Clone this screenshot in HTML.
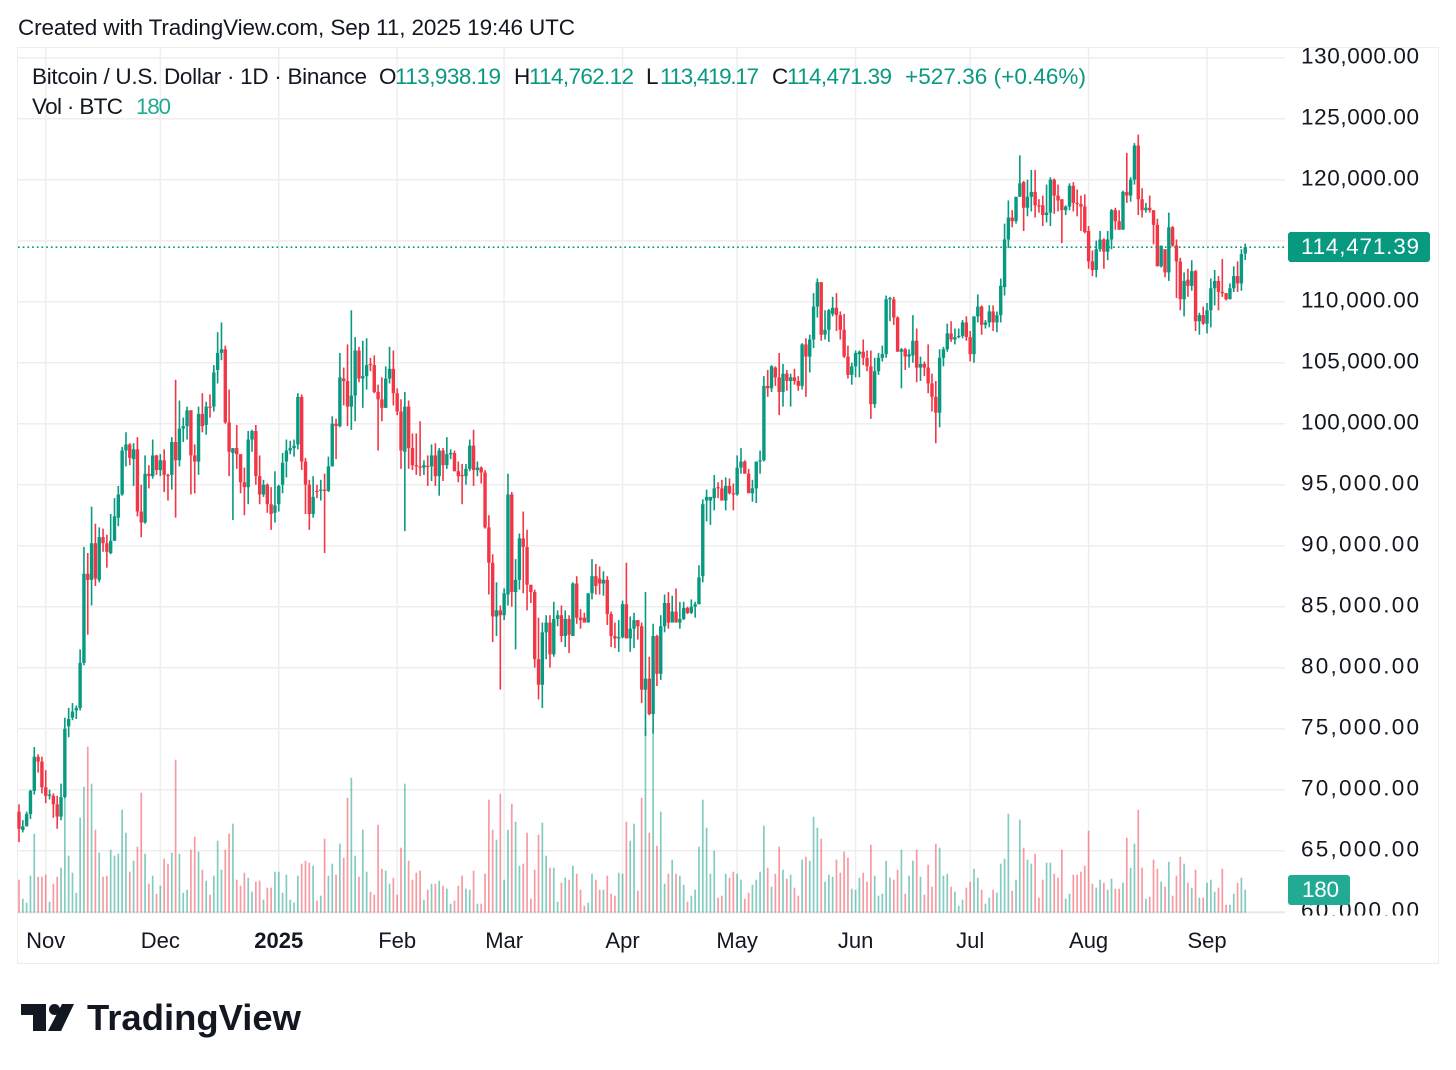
<!DOCTYPE html>
<html lang="en">
<head>
<meta charset="utf-8">
<title>BTC/USD chart</title>
<style>
html,body{margin:0;padding:0;background:#fff;width:1456px;height:1070px;overflow:hidden}
svg{display:block;position:absolute;left:0;top:0}
text{font-family:"Liberation Sans",sans-serif;fill:#131722}
.t21{font-size:22.5px}
.up{fill:#089981}
</style>
</head>
<body>
<svg id="chart" width="1456" height="1070" viewBox="0 0 1456 1070" xmlns="http://www.w3.org/2000/svg">
  <defs>
    <clipPath id="axis-clip"><rect x="1288" y="40" width="150" height="875.5"></rect></clipPath>
  </defs>
  <text class="t21" x="18" y="35" textLength="557" lengthAdjust="spacing">Created with TradingView.com, Sep 11, 2025 19:46 UTC</text>
  <rect x="17.5" y="47.5" width="1421" height="916" fill="#fff" stroke="#ececec" stroke-width="1"></rect>
  <g id="grid"></g>
  <g id="volumes"></g>
  <g id="candles"></g>
  <line id="last-line" x1="18" x2="1285" stroke="#089981" stroke-width="1.6" stroke-dasharray="1.7 3"></line>
  <g id="price-axis" clip-path="url(#axis-clip)"></g>
  <g id="time-axis"></g>

  <g>
    <text class="t21" x="32" y="84" textLength="335" lengthAdjust="spacing">Bitcoin / U.S. Dollar · 1D · Binance</text>
    <text class="t21" x="379" y="84">O</text>
    <text class="t21 up" x="395" y="84" textLength="106" lengthAdjust="spacing">113,938.19</text>
    <text class="t21" x="514" y="84">H</text>
    <text class="t21 up" x="529" y="84" textLength="105" lengthAdjust="spacing">114,762.12</text>
    <text class="t21" x="646" y="84">L</text>
    <text class="t21 up" x="660" y="84" textLength="99" lengthAdjust="spacing">113,419.17</text>
    <text class="t21" x="772" y="84">C</text>
    <text class="t21 up" x="787" y="84" textLength="105" lengthAdjust="spacing">114,471.39</text>
    <text class="t21 up" x="905" y="84" textLength="181" lengthAdjust="spacing">+527.36 (+0.46%)</text>
    <text class="t21" x="32" y="114" textLength="91" lengthAdjust="spacing">Vol · BTC</text>
    <text class="t21" x="136" y="114" textLength="35" lengthAdjust="spacing" style="fill:#22ab94">180</text>
  </g>

  <g>
    <rect x="1288" y="232" width="142" height="30" rx="3" fill="#089981"></rect>
    <text class="t21" x="1301" y="254" textLength="118" lengthAdjust="spacing" style="fill:#fff">114,471.39</text>
  </g>
  <g>
    <rect x="1288" y="875" width="62" height="30" rx="3" fill="#22ab94"></rect>
    <text class="t21" x="1302" y="897" textLength="37" lengthAdjust="spacing" style="fill:#fff">180</text>
  </g>

  <g>
    <path d="M21 1004H46V1031H33V1015H21Z" fill="#131722"></path>
    <circle cx="54.5" cy="1009.5" r="5.5" fill="#131722"></circle>
    <path d="M62 1004H74L61 1031H48Z" fill="#131722"></path>
    <text x="87" y="1030" font-size="36" font-weight="700" textLength="214" lengthAdjust="spacingAndGlyphs">TradingView</text>
  </g>
</svg>

<script>
// Daily BTC/USD candles in thousands of USD, Oct 25 2024 to Sep 11 2025
const opens = [
68.2,66.7,67.0,68.0,69.9,72.7,72.3,70.2,69.5,69.5,
68.8,67.8,69.4,75.2,75.9,76.5,76.7,80.4,87.7,87.2,
90.2,87.2,90.7,90.2,89.4,90.4,92.3,94.2,97.8,98.3,
97.1,97.9,92.8,91.9,95.9,95.7,97.4,96.2,97.0,95.8,
95.8,98.5,97.0,99.6,99.8,101.1,97.4,96.9,100.8,99.9,
101.4,101.4,104.4,105.8,106.1,100.1,97.6,98.0,97.5,95.2,
94.8,98.7,99.4,95.7,94.2,95.0,93.4,92.7,93.4,95.0,
96.9,97.8,98.0,98.3,102.2,96.9,95.0,92.6,94.5,94.5,
94.6,94.5,96.5,100.0,99.8,103.7,103.5,101.4,102.3,106.0,
103.7,103.9,104.9,104.8,102.6,102.0,101.3,103.7,104.5,102.5,
101.0,97.7,101.4,98.0,96.6,96.5,96.4,96.55,96.5,97.4,
95.7,97.8,96.6,97.5,97.6,96.1,95.8,95.7,96.3,98.2,
96.2,96.4,96.0,91.5,88.6,84.2,84.7,84.3,86.0,94.2,
86.2,87.2,90.6,89.9,86.8,86.2,80.7,78.6,82.9,83.7,
81.1,84.0,84.3,82.6,84.0,82.6,86.9,84.1,84.1,83.7,
86.1,87.5,87.3,86.9,87.2,84.4,82.6,82.4,82.5,85.2,
82.4,83.2,83.9,83.4,78.2,79.1,76.2,82.6,79.5,83.4,
85.3,83.7,84.6,83.7,84.0,84.9,84.5,85.0,85.2,87.5,
93.7,93.7,93.9,94.8,94.7,93.7,94.9,94.3,94.2,96.4,
96.9,95.9,94.3,94.7,96.9,97.0,103.1,102.9,104.6,103.8,
102.6,104.1,103.5,103.8,103.5,103.1,106.5,105.5,106.9,109.6,
111.6,107.3,107.7,109.0,109.5,108.9,107.7,105.5,104.0,104.7,
105.7,105.9,105.4,104.7,101.6,104.3,105.4,105.7,110.2,110.2,
108.7,105.9,106.1,105.5,105.6,106.8,104.6,104.9,104.6,103.3,
102.2,100.9,105.4,106.1,107.4,106.9,107.1,107.2,108.3,107.1,
105.7,108.8,109.6,108.1,108.3,109.2,108.3,108.9,111.2,115.1,
116.9,116.6,118.6,119.8,117.7,118.6,119.0,117.9,117.9,117.1,
117.3,120.0,118.7,118.4,117.5,117.8,119.5,118.1,118.0,117.8,
115.8,113.3,112.6,114.3,115.1,114.1,115.1,117.5,116.6,115.9,
119.0,118.7,120.0,122.8,118.4,117.5,117.7,117.5,116.3,112.9,
114.3,112.4,116.1,114.6,113.3,110.2,111.8,111.3,112.5,108.4,
108.9,108.2,109.3,111.1,111.7,110.8,110.7,110.2,111.1,112.1,
111.5,113.94];
const highs = [
68.8,67.5,68.2,70.0,73.5,72.9,72.7,71.6,70.0,69.7,
69.5,70.5,75.9,76.7,77.1,76.9,81.5,89.9,89.4,93.2,
91.8,91.5,91.4,90.9,92.6,93.9,94.9,98.1,99.3,98.4,
98.4,98.9,95.0,97.4,96.6,98.7,97.45,97.5,97.9,95.9,
98.9,103.6,101.9,100.5,101.4,101.1,98.3,101.4,102.5,101.8,
102.4,104.8,107.5,108.3,106.4,102.8,98.0,99.9,97.5,96.4,
99.4,99.5,99.9,97.4,95.4,95.1,94.8,96.1,95.0,97.6,
98.7,98.6,98.7,102.5,102.4,97.2,95.4,95.7,95.0,95.4,
95.9,97.3,100.6,100.4,105.8,104.6,106.5,109.3,107.1,106.3,
106.8,107.0,105.4,105.6,103.2,103.8,104.7,106.3,106.0,102.9,
102.0,102.6,101.9,99.2,99.2,100.2,97.0,97.4,98.3,98.4,
98.0,98.0,98.9,97.9,97.8,96.9,96.7,96.7,98.7,99.5,
96.9,96.5,96.2,92.5,89.3,87.0,85.1,86.5,95.9,94.4,
88.9,91.0,92.8,91.3,86.8,86.4,84.1,83.7,84.3,84.3,
85.4,84.7,85.1,84.7,84.3,87.0,87.5,84.8,84.5,86.1,
88.9,88.5,88.3,87.9,87.5,84.6,83.7,83.9,85.5,88.6,
84.2,84.5,83.9,83.7,86.2,80.9,83.6,82.7,84.3,86.0,
86.2,85.9,86.5,85.4,85.4,85.0,85.6,85.4,88.4,93.8,
94.6,93.9,95.8,95.2,95.4,95.6,95.5,95.1,97.4,98.0,
97.0,96.3,95.4,96.9,97.8,103.9,104.4,104.8,104.7,105.8,
104.9,104.4,104.1,104.5,103.9,106.6,107.0,107.3,110.7,111.9,
111.6,109.3,109.4,110.4,110.7,109.2,109.0,106.4,105.0,106.0,
106.0,106.9,106.0,106.0,105.4,105.8,106.4,110.5,110.4,110.4,
108.8,106.2,106.2,106.1,108.9,107.8,105.5,105.1,106.5,104.1,
103.5,106.1,106.3,108.2,108.4,107.8,107.8,108.5,108.8,107.6,
108.8,110.6,109.7,108.5,109.7,109.7,109.2,111.9,116.4,118.3,
117.5,118.6,122.0,119.9,120.0,120.8,120.8,118.4,118.7,119.6,
120.2,120.1,119.6,118.4,117.9,119.7,119.8,119.2,118.7,118.8,
116.2,114.2,115.0,115.8,115.2,115.8,117.6,117.7,117.5,119.1,
122.2,120.2,123.0,123.7,119.3,118.1,118.7,117.5,116.8,114.6,
114.3,117.3,116.2,115.1,113.6,112.4,112.7,113.4,112.6,109.1,
109.6,109.9,111.9,112.6,112.1,113.5,110.7,111.5,112.9,113.3,
114.3,114.76];
const lows = [
65.7,66.5,67.0,67.6,69.6,71.4,69.7,68.9,69.2,67.7,
66.8,67.5,69.3,74.3,75.7,75.8,76.5,80.2,82.7,85.1,
86.7,87.0,89.5,88.2,89.3,90.4,91.6,94.1,96.5,96.6,
94.9,92.4,90.7,91.8,94.7,95.5,95.8,95.7,94.4,93.7,
94.6,92.3,96.5,98.5,98.7,94.2,94.3,95.8,99.3,99.1,
100.5,101.0,103.3,105.2,100.0,95.7,92.1,96.3,94.3,92.5,
93.4,97.7,95.0,93.4,94.0,92.7,91.3,91.9,92.8,94.3,
95.6,97.5,97.3,97.9,96.2,92.6,91.3,92.3,93.9,93.7,
89.4,94.4,96.5,97.1,99.7,101.5,99.8,99.5,100.2,103.4,
101.3,102.8,104.3,102.5,97.8,100.2,101.3,103.3,101.5,100.7,
96.3,91.2,96.3,96.2,95.8,95.7,95.8,94.9,95.3,94.9,
94.1,95.3,96.3,97.1,96.1,95.2,93.4,95.0,96.1,94.9,
95.7,95.1,91.4,86.0,82.1,82.6,78.2,83.9,85.1,85.0,
81.5,86.4,86.1,84.7,85.3,80.0,77.4,76.7,80.7,80.0,
80.9,83.4,82.1,81.7,81.2,82.6,83.6,83.2,83.7,83.7,
85.6,86.0,86.0,85.9,83.5,81.7,81.6,81.3,82.4,82.4,
81.3,81.6,82.3,77.1,74.4,76.1,74.6,78.5,79.0,82.9,
83.2,83.7,83.7,83.2,83.9,84.4,84.4,84.1,85.2,87.0,
92.0,91.7,92.9,93.9,93.7,92.9,94.2,92.9,94.1,95.9,
95.9,94.3,93.6,93.5,95.9,96.9,102.2,102.6,103.1,100.7,
101.4,102.7,101.4,103.2,102.7,102.8,102.2,104.2,106.2,108.7,
106.8,106.9,106.7,108.8,107.6,106.9,105.4,103.7,103.2,103.8,
103.8,104.8,104.3,100.4,101.3,104.0,105.1,105.4,108.4,108.1,
105.9,102.9,104.4,104.6,105.0,103.4,103.5,103.9,102.5,101.0,
98.4,99.7,104.7,105.9,106.7,106.5,107.0,107.0,106.8,105.1,
105.0,108.3,107.3,107.8,107.9,107.6,107.5,108.3,110.5,114.4,
116.1,116.4,118.6,115.8,117.0,117.4,116.9,117.3,116.2,116.5,
116.2,117.2,117.4,114.8,117.1,117.5,117.4,117.0,115.8,115.6,
112.7,112.1,112.0,114.1,112.7,113.4,114.3,115.9,115.9,115.9,
118.1,118.2,119.6,117.1,116.9,117.3,117.3,114.7,112.9,112.8,
112.0,111.7,114.5,110.3,109.3,108.8,110.4,110.9,107.6,107.3,
108.1,107.4,107.9,109.7,109.3,110.4,110.1,110.2,110.8,110.8,
110.9,113.42];
const closes = [
66.8,67.0,68.0,69.9,72.7,72.3,70.2,69.5,69.6,68.8,
67.8,69.4,75.0,75.8,76.4,76.7,80.4,87.7,87.2,90.2,
87.3,90.7,90.2,89.5,90.4,92.4,94.2,97.8,98.3,97.2,
97.9,92.8,91.9,95.9,95.7,97.4,96.2,97.0,95.8,95.7,
98.5,97.0,99.6,99.8,101.1,97.4,96.9,100.8,99.8,101.4,
101.3,104.2,105.8,106.1,100.1,97.7,98.0,97.5,95.2,94.8,
98.7,99.4,95.7,94.2,95.0,93.4,92.6,93.3,94.9,96.8,
97.8,98.0,98.2,102.2,96.9,95.0,92.6,94.0,94.45,94.6,
94.5,96.5,100.0,99.8,103.8,103.5,101.4,102.3,106.0,103.7,
103.9,104.8,104.8,102.6,102.0,101.3,103.7,104.5,102.5,101.0,
97.8,101.4,98.0,96.6,96.5,96.4,96.6,96.5,97.4,95.7,
97.8,96.6,97.5,97.6,96.1,95.7,95.7,96.3,98.2,96.2,
96.4,96.0,91.5,88.6,84.2,84.7,84.3,86.1,94.2,86.2,
87.2,90.6,89.9,86.8,86.2,80.7,78.6,82.9,83.7,81.1,
84.0,84.3,82.6,84.0,82.7,86.9,84.1,83.9,83.7,86.1,
87.5,86.7,86.9,87.2,84.4,82.6,82.4,82.5,85.2,82.4,
83.2,83.9,83.4,78.2,79.1,76.2,82.6,79.5,83.4,85.3,
83.7,84.6,83.7,84.0,84.9,84.5,85.0,85.2,87.4,93.4,
94.0,94.0,94.7,94.7,93.7,94.9,94.3,94.2,96.4,96.9,
95.9,94.3,94.7,96.9,97.0,103.1,102.9,104.7,103.8,102.6,
104.1,103.5,103.8,103.5,103.1,106.5,105.5,106.9,109.6,111.6,
107.3,107.7,109.3,109.5,108.9,107.7,105.5,104.0,104.7,105.8,
105.9,105.4,104.7,101.6,104.3,105.4,105.7,110.2,110.3,108.7,
105.9,106.1,105.5,105.7,106.8,104.6,104.9,104.6,103.3,102.2,
100.9,105.4,106.1,107.4,106.9,107.1,107.2,108.3,107.1,105.7,
108.8,109.6,108.1,108.3,109.2,108.3,108.9,111.3,115.1,116.9,
116.6,118.6,119.7,117.7,118.6,119.0,117.9,117.85,117.1,117.3,
120.0,118.7,118.3,117.5,117.8,119.5,118.1,118.0,117.8,115.7,
113.3,112.6,114.3,115.1,114.1,115.1,117.5,116.6,115.9,119.0,
118.7,120.0,122.8,118.4,117.5,117.7,117.5,116.3,112.9,114.6,
112.4,116.1,114.6,113.3,110.2,111.7,111.3,112.5,108.4,108.9,
108.2,109.3,111.1,111.7,110.8,110.7,110.2,111.1,112.1,111.5,
113.9,114.47];
// Volume, in relative units
const volumes = [
33,14,10,37,79,36,36,38,11,29,
36,45,118,57,40,20,95,126,166,129,
83,60,36,37,63,57,59,103,80,41,
52,66,120,59,29,37,19,27,54,49,
60,153,59,20,23,63,76,61,43,32,
18,37,72,43,63,79,89,33,27,40,
35,21,31,32,13,25,25,41,41,20,
38,13,10,37,49,52,50,47,12,17,
74,37,49,38,69,55,115,135,57,36,
83,41,21,18,88,44,42,29,35,18,
65,129,52,33,40,42,13,23,29,29,
32,27,24,9,12,27,37,24,23,42,
9,9,39,113,83,73,119,33,83,109,
91,47,49,80,14,43,78,90,57,45,
45,11,30,35,33,47,39,23,7,10,
39,33,23,23,37,19,17,40,39,91,
72,89,22,115,185,80,185,67,101,29,
39,53,39,37,28,11,17,23,66,113,
85,39,62,15,17,39,35,41,39,33,
14,20,28,33,41,87,45,26,39,66,
43,34,38,25,17,53,56,52,96,85,
74,31,38,36,53,40,61,55,24,23,
35,40,31,68,37,17,19,52,35,33,
43,63,19,37,52,63,36,18,48,26,
69,65,37,39,26,21,7,13,25,31,
44,35,23,9,15,23,20,49,54,99,
22,33,93,65,53,49,59,15,33,50,
50,39,35,63,14,19,38,38,41,47,
82,29,25,33,30,23,34,24,24,30,
75,45,69,103,45,14,16,53,44,31,
26,51,17,37,56,49,30,25,43,15,
15,30,33,21,25,44,8,8,19,30,
35,23];
const priceTicks = [130000,125000,120000,115000,110000,105000,100000,95000,90000,85000,80000,75000,70000,65000,60000];
const hiddenPriceLabels = [115000];
const timeLabels = ["Nov","Dec","2025","Feb","Mar","Apr","May","Jun","Jul","Aug","Sep"];
const timeTickDays = [7,37,68,99,127,158,188,219,249,280,311];
const lastPrice = 114471.39;

const SVGNS = "http://www.w3.org/2000/svg";
function xAt(day){ return 19 + 3.82 * day; }
function yAt(usd){ return 789.7 + (70000 - usd) * 61 / 5000; }
function volH(v){ return v; }
function mk(tag, parent, attrs){
  const el = document.createElementNS(SVGNS, tag);
  for (const k in attrs) el.setAttribute(k, attrs[k]);
  parent.appendChild(el);
  return el;
}

const gridG = document.getElementById("grid");
const volG = document.getElementById("volumes");
const candleG = document.getElementById("candles");
const priceG = document.getElementById("price-axis");
const timeG = document.getElementById("time-axis");
const GRID = "#eeeeef";

priceTicks.forEach(function(p){
  const y = yAt(p);
  const line = mk("line", gridG, {x1:18, x2:1285, y1:y, y2:y, stroke:GRID, "stroke-width":1.5});
  
  
  if (hiddenPriceLabels.indexOf(p) === -1) {
    const t = mk("text", priceG, {x:1301, y:y + 5.8, "font-size":22.5, textLength:118, lengthAdjust:"spacing"});
    t.textContent = p.toLocaleString("en-US", {minimumFractionDigits:2, maximumFractionDigits:2});
    
    
  }
});

timeTickDays.forEach(function(d, i){
  const x = xAt(d);
  const line = mk("line", gridG, {x1:x, x2:x, y1:48, y2:912.5, stroke:GRID, "stroke-width":1.5});
  
  
  const label = timeLabels[i];
  const attrs = {x:x, y:948, "font-size":22, "text-anchor":"middle"};
  if (label === "2025") attrs["font-weight"] = 700;
  const t = mk("text", timeG, attrs);
  t.textContent = label;
  
  
});

const baseLine = mk("line", gridG, {x1:18, x2:1285, y1:912.7, y2:912.7, stroke:"#e6e6e8", "stroke-width":1.2});



const UP = "#089981", DOWN = "#f23645";
const UPV = "rgba(8,153,129,.5)", DOWNV = "rgba(242,54,69,.5)";

volumes.forEach(function(v, i){
  const up = closes[i] >= opens[i];
  const h = volH(v);
  const r = mk("rect", volG, {x:xAt(i) - 0.85, y:912.7 - h, width:1.7, height:h, fill: up ? UPV : DOWNV});
  
  
});

closes.forEach(function(c, i){
  const o = opens[i];
  const up = c >= o;
  const col = up ? UP : DOWN;
  const x = xAt(i);
  const g = mk("g", candleG, {});
  
  
  const yHi = yAt(highs[i] * 1000);
  const yLo = yAt(lows[i] * 1000);
  const yO = yAt(o * 1000);
  const yC = yAt(c * 1000);
  mk("rect", g, {x:x - 0.8, y:yHi, width:1.6, height:Math.max(yLo - yHi, 0.5), fill:col});
  const top = Math.min(yO, yC);
  const bh = Math.max(Math.abs(yO - yC), 1.2);
  mk("rect", g, {x:x - 1.7, y:top, width:3.4, height:bh, fill:col});
});

const ll = document.getElementById("last-line");
ll.setAttribute("y1", yAt(lastPrice));
ll.setAttribute("y2", yAt(lastPrice));
</script>
</body>
</html>
